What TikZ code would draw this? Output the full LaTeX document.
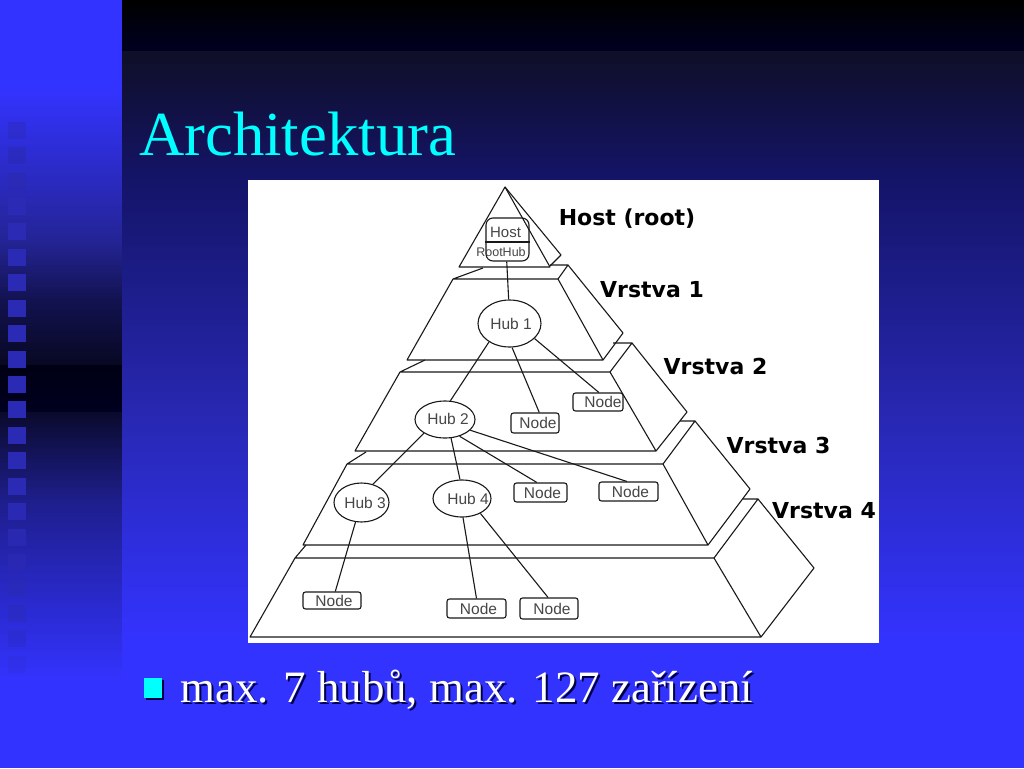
\documentclass[tikz,border=0pt]{standalone}
\usepackage{fontspec}
\setmainfont[Kerning=Off]{Liberation Serif}
\newfontfamily\arialfont{Liberation Sans}
\newfontfamily\labelfont{DejaVu Sans}
\usetikzlibrary{shapes.geometric, positioning, calc}

\definecolor{slideblue}{RGB}{51,51,255}
\definecolor{stripmid}{RGB}{36,36,150}
\definecolor{stripdark}{RGB}{18,18,80}
\definecolor{stripdeep}{RGB}{8,8,35}
\definecolor{stripblack}{RGB}{0,0,20}
\definecolor{stripnight}{RGB}{0,0,32}
\definecolor{striprise}{RGB}{10,10,45}
\definecolor{stripback}{RGB}{30,30,140}
\definecolor{topnavy}{RGB}{0,0,35}
\definecolor{bandnavy}{RGB}{15,15,40}
\definecolor{bandmid}{RGB}{20,20,105}
\definecolor{bandlow}{RGB}{40,40,180}
\definecolor{squareblue}{RGB}{42,42,180}
\definecolor{inkline}{RGB}{25,25,25}
\definecolor{inktext}{RGB}{70,70,70}
\definecolor{titlecyan}{RGB}{0,255,255}
\definecolor{shadowblue}{RGB}{0,0,70}

\tikzset{
    hubnode/.style={ellipse, draw=inkline, line width=1.1pt, inner sep=0pt, font=\arialfont\fontsize{15.5}{15}\selectfont, text=inktext},
    devnode/.style={rectangle, rounded corners=2.5pt, draw=inkline, line width=1.1pt, inner sep=0pt, font=\arialfont\fontsize{15.5}{15}\selectfont, text=inktext},
    hosttext/.style={inner sep=0pt, font=\arialfont\fontsize{15}{15}\selectfont, text=inktext},
    layertext/.style={inner sep=0pt, font=\labelfont\bfseries\fontsize{22}{22}\selectfont, text=black},
    layerline/.style={draw=inkline, line width=1.1pt, line join=round},
    wire/.style={draw=inkline, line width=1.1pt}
}
\newcommand{\dropshadowtext}[1]{\rlap{\kern2pt\raisebox{-2pt}{\textcolor{shadowblue}{#1}}}\textcolor{white}{#1}}
% text moved inside its box, the box keeps its size
\newcommand{\nudged}[3]{\makebox[0pt]{\hspace*{#1}\raisebox{#2}{#3}}}

\begin{document}
\begin{tikzpicture}[x=1pt, y=-1pt]
    \useasboundingbox (0,0) rectangle (1024,768);
    \fill[slideblue] (0,0) rectangle (1024,768);

    % Background bands
    \foreach \ya/\yb/\ca/\cb in {90/240/slideblue/stripmid, 240/300/stripmid/stripdark, 300/365/stripdark/stripdeep, 365/412/stripblack/stripnight, 412/500/striprise/stripback, 500/680/stripback/slideblue}
        \shade[top color=\ca, bottom color=\cb] (0,\ya) rectangle (122,\yb+0.5);
    \foreach \ya/\yb/\ca/\cb in {0/52/black/topnavy, 52/180/bandnavy/bandmid, 180/420/bandmid/bandlow, 420/640/bandlow/slideblue}
        \shade[top color=\ca, bottom color=\cb] (122,\ya) rectangle (1024,\yb+0.5);

    % Squares on the strip
    \foreach \i [evaluate=\i as \op using {min(1,0.2*(\i+2),0.14*(22-\i))}] in {0,...,21}
        \fill[squareblue, fill opacity=\op] (8,121.7+25.43*\i) rectangle (26,138.7+25.43*\i);

    % Title and bullet
    \node[anchor=base west, inner sep=0pt, text=titlecyan, font=\fontsize{62.7}{63}\selectfont] (title) at (139,155) {Architektura};
    \fill[shadowblue] (146,680) rectangle (164,700);
    \fill[titlecyan] (144,678) rectangle (162,698);
    \node[anchor=base west, inner sep=0pt, font=\fontsize{44.85}{46}\selectfont] (bullettext) at (180,702) {\dropshadowtext{max. 7 hubů, max. 127 zařízení}};

    % Picture area
    \fill[white] (248,180) rectangle (879,643);

    % Pyramid layers
    \draw[layerline] (505,187) -- (459,267) -- (550,267) -- cycle;
    \draw[layerline] (505,187) -- (561,255) -- (550,266);
    \draw[layerline] (483,268) -- (453,279) -- (407,360) -- (603,360) -- (558,279) -- (453,279);
    \draw[layerline] (558,279) -- (568,265) -- (550,265);
    \draw[layerline] (568,265) -- (623,333) -- (603,360);

    \draw[layerline] (425,360) -- (400,372) -- (355,451) -- (656,451) -- (610,372) -- (400,372);
    \draw[layerline] (610,372) -- (632,343) -- (613,343);
    \draw[layerline] (632,343) -- (687,412) -- (656,451);

    \draw[layerline] (366,452) -- (347,464) -- (303,545) -- (708,545) -- (663,464) -- (347,464);
    \draw[layerline] (663,464) -- (695,421) -- (680,421);
    \draw[layerline] (695,421) -- (750,489) -- (708,545);

    \draw[layerline] (306,545) -- (295,558) -- (250,637) -- (761,637) -- (714,558) -- (295,558);
    \draw[layerline] (714,558) -- (758,499) -- (743,499);
    \draw[layerline] (758,499) -- (814,568) -- (761,637);

    % Host
    \node[devnode, rounded corners=7pt, minimum width=43pt, minimum height=43pt] (hostbox) at (507.5,239.5) {};
    \draw[wire] ($(hostbox.west)+(0,2.5)$) -- ($(hostbox.east)+(0,2.5)$);
    \node[hosttext] (hostname) at (505.5,232) {Host};
    \node[hosttext, font=\arialfont\fontsize{12.5}{13}\selectfont] (roothub) at (501,252) {RootHub};

    % Hubs
    \node[hubnode, minimum width=63pt, minimum height=47pt] (hubone) at (509.5,323.5) {\nudged{3pt}{-2pt}{Hub 1}};
    \node[hubnode, minimum width=60pt, minimum height=37pt] (hubtwo) at (445,419.5) {\nudged{6pt}{1pt}{Hub 2}};
    \node[hubnode, minimum width=55pt, minimum height=39pt] (hubthree) at (361.5,502.5) {\nudged{7pt}{-2pt}{Hub 3}};
    \node[hubnode, minimum width=58pt, minimum height=37pt] (hubfour) at (462,498.5) {\nudged{12pt}{-2pt}{Hub 4}};

    % Nodes
    \node[devnode, minimum width=50pt, minimum height=18pt] (nodea) at (598,402) {\nudged{10pt}{-1pt}{Node}};
    \node[devnode, minimum width=48pt, minimum height=20pt] (nodeb) at (535,423) {\nudged{6pt}{-1pt}{Node}};
    \node[devnode, minimum width=53pt, minimum height=19pt] (nodec) at (540.5,492.5) {\nudged{4pt}{-1pt}{Node}};
    \node[devnode, minimum width=59pt, minimum height=19pt] (noded) at (628.5,491.5) {\nudged{4pt}{-1pt}{Node}};
    \node[devnode, minimum width=58pt, minimum height=17pt] (nodee) at (332,600.5) {\nudged{4pt}{-2pt}{Node}};
    \node[devnode, minimum width=59pt, minimum height=19pt] (nodef) at (476.5,608.5) {\nudged{4pt}{-1pt}{Node}};
    \node[devnode, minimum width=58pt, minimum height=21pt] (nodeg) at (549,608.5) {\nudged{6pt}{0pt}{Node}};

    % Connections
    \draw[wire] (hostbox.268) -- (hubone.92);
    \draw[wire] (hubone.222) -- (hubtwo.74);
    \draw[wire] (hubone.276) -- (nodeb.68);
    \draw[wire] (hubone.329) -- (nodea.85);
    \draw[wire] (hubtwo.213) -- (hubthree.58);
    \draw[wire] (hubtwo.288) -- (hubfour.96);
    \draw[wire] (hubtwo.311) -- (nodec.110);
    \draw[wire] (hubtwo.337) -- (noded.99);
    \draw[wire] (hubthree.253) -- (nodee.70);
    \draw[wire] (hubfour.273) -- (nodef.90);
    \draw[wire] (hubfour.321) -- (nodeg.95);

    % Layer names
    \node[layertext] (hostlabel) at (627,219) {Host (root)};
    \node[layertext] (layerone) at (652,290) {Vrstva 1};
    \node[layertext] (layertwo) at (715.5,366) {Vrstva 2};
    \node[layertext] (layerthree) at (778.5,445) {Vrstva 3};
    \node[layertext] (layerfour) at (824,511) {Vrstva 4};
\end{tikzpicture}
\end{document}
